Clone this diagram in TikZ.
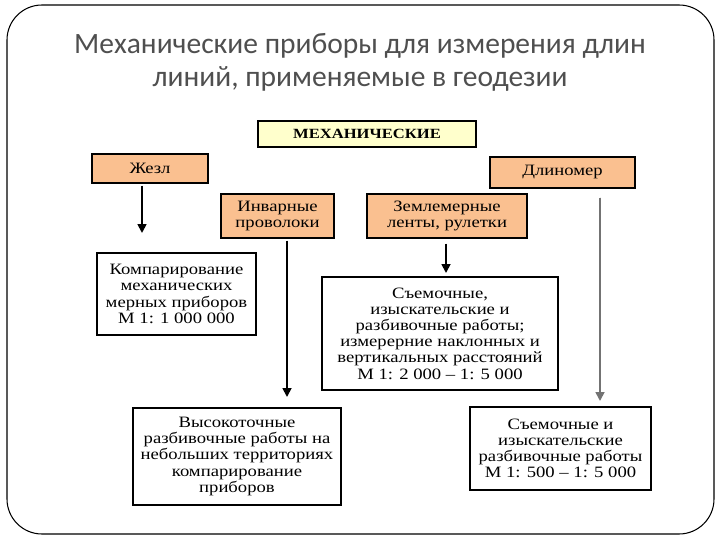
\documentclass[tikz,border=0pt]{standalone}
\usepackage{fontspec}
\setmainfont{Liberation Serif}
\newfontfamily\titlefont{Carlito}
\newfontfamily\boxfont[FakeStretch=1.18,Ligatures=TeX]{Liberation Serif}
\usetikzlibrary{arrows.meta,calc}
\definecolor{peach}{HTML}{FAC090}
\definecolor{paleyellow}{HTML}{FFFFCC}
\definecolor{titlegray}{HTML}{4F4F4F}

\tikzset{
  box/.style={draw=black, line width=0.8pt, align=center, inner sep=1pt,
    font=\boxfont\fontsize{9}{9.2}\selectfont},
  kind/.style={box, fill=peach},
  use/.style={box, fill=white},
  arr/.style={-{Triangle[length=5pt,width=5pt]}, line width=1pt}
}

\begin{document}
\begin{tikzpicture}[x=0.02cm, y=-0.02cm]

\useasboundingbox (0,0) rectangle (720,540);
\draw[line width=0.6pt, rounded corners=0.7cm] (7,5) rectangle (714,534);

\node[text=titlegray, align=center, font=\titlefont\fontsize{16.8}{18.7}\selectfont] (title) at (360,62)
  {Механические приборы для измерения длин\\линий, применяемые в геодезии};

\node[box, fill=paleyellow, minimum width=4.36cm, minimum height=0.52cm,
  font=\boxfont\fontsize{8}{9}\selectfont\bfseries] (mech) at (367,134) {МЕХАНИЧЕСКИЕ};

\node[kind, minimum width=2.32cm, minimum height=0.58cm] (zhezl) at (150,168.5) {Жезл};
\node[kind, minimum width=2.9cm, minimum height=0.62cm] (dlin) at (562.5,172.5) {Длиномер};
\node[kind, minimum width=2.26cm, minimum height=0.88cm] (invar) at (277.5,216) {Инварные\\проволоки};
\node[kind, minimum width=3.2cm, minimum height=0.88cm] (zemle) at (447,216) {Землемерные\\ленты, рулетки};

\node[use, minimum width=3.18cm, minimum height=1.64cm] (komp) at (176.5,294)
  {Компарирование\\механических\\мерных приборов\\М 1: 1 000 000};
\node[use, minimum width=4.72cm, minimum height=2.26cm] (sem1) at (440,333.5)
  {Съемочные,\\изыскательские и\\разбивочные работы;\\измерерние наклонных и\\вертикальных расстояний\\М 1: 2 000 – 1: 5 000};
\node[use, minimum width=4.16cm, minimum height=1.94cm] (vys) at (237,456.5)
  {Высокоточные\\разбивочные работы на\\небольших территориях\\компарирование\\приборов};
\node[use, minimum width=3.62cm, minimum height=1.66cm] (sem2) at (560.5,448.5)
  {Съемочные и\\изыскательские\\разбивочные работы\\М 1: 500 – 1: 5 000};

% free ends of the arrows
\coordinate (zend) at (142,233);
\coordinate (iend) at (287,397);
\coordinate (lend) at (446,273);
\coordinate (dend) at (600,401);

\draw[arr] ($(zhezl.south -| zend)+(0,2)$) -- (zend);
\draw[arr] ($(invar.south -| iend)+(0,2)$) -- (iend);
\draw[arr] ($(zemle.south -| lend)+(0,5)$) -- (lend);
\draw[arr, draw=black!55, fill=black] ($(dlin.south -| dend)+(0,9)$) -- (dend);

\end{tikzpicture}
\end{document}
